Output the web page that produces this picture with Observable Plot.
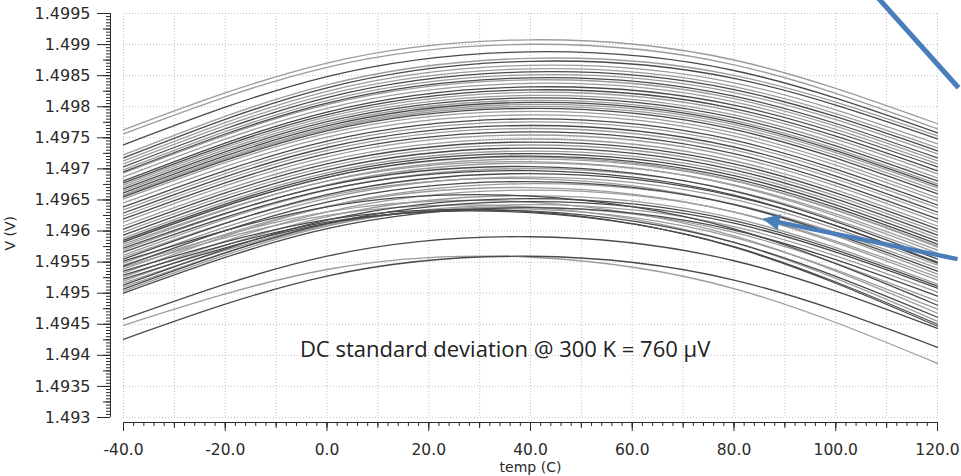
<!DOCTYPE html>
<html><head><meta charset="utf-8">
<script src="https://cdn.jsdelivr.net/npm/d3@7"></script>
<script src="https://cdn.jsdelivr.net/npm/@observablehq/plot@0.6"></script>
<style>body{margin:0;background:#fff}</style>
</head><body><div id="chart"></div>
<script>
// Monte Carlo runs: output voltage (V) at each temperature (°C)
const temps = [-40, 0, 40, 80, 120];
const vAtM40 = [
1.497629,1.497565,1.497387,1.497226,1.497177,1.497129,1.497081,1.497032,1.496984,1.496952,
1.496935,1.496871,1.496806,1.496774,1.496742,1.496710,1.496677,1.496645,1.496613,1.496581,
1.496565,1.496548,1.496516,1.496452,1.496387,1.496339,1.496290,1.496242,1.496194,1.496145,
1.496081,1.496032,1.495984,1.495935,1.495887,1.495855,1.495839,1.495823,1.495790,1.495758,
1.495726,1.495694,1.495661,1.495613,1.495581,1.495548,1.495516,1.495484,1.495452,1.495435,
1.495419,1.495387,1.495355,1.495323,1.495290,1.495258,1.495226,1.495194,1.495161,1.495129,
1.495097,1.495065,1.495032,1.495000,1.494581,1.494484,1.494258];
const vAt0 = [
1.498703,1.498635,1.498486,1.498353,1.498304,1.498248,1.498196,1.498147,1.498099,1.498058,
1.498034,1.497974,1.497913,1.497873,1.497836,1.497796,1.497759,1.497723,1.497691,1.497659,
1.497635,1.497610,1.497570,1.497510,1.497445,1.497397,1.497344,1.497296,1.497244,1.497195,
1.497131,1.497082,1.497034,1.496985,1.496937,1.496901,1.496865,1.496865,1.496804,1.496808,
1.496731,1.496744,1.496667,1.496659,1.496562,1.496586,1.496388,1.496526,1.496308,1.496465,
1.496251,1.496393,1.496183,1.496393,1.496143,1.496308,1.496123,1.496232,1.496106,1.496175,
1.496091,1.496119,1.496078,1.496038,1.495595,1.495381,1.495276];
const vAt40 = [
1.499077,1.499005,1.498884,1.498779,1.498731,1.498666,1.498610,1.498561,1.498513,1.498465,
1.498432,1.498376,1.498319,1.498271,1.498231,1.498183,1.498142,1.498102,1.498070,1.498038,
1.498005,1.497973,1.497924,1.497868,1.497803,1.497755,1.497698,1.497650,1.497594,1.497545,
1.497481,1.497432,1.497384,1.497335,1.497287,1.497247,1.497190,1.497206,1.497117,1.497158,
1.497037,1.497094,1.496972,1.497005,1.496843,1.496924,1.496561,1.496868,1.496465,1.496795,
1.496384,1.496699,1.496312,1.496763,1.496295,1.496658,1.496320,1.496570,1.496352,1.496521,
1.496384,1.496473,1.496424,1.496376,1.495908,1.495578,1.495594];
const vAt80 = [
1.498752,1.498675,1.498583,1.498506,1.498457,1.498385,1.498325,1.498276,1.498228,1.498171,
1.498131,1.498079,1.498026,1.497970,1.497925,1.497869,1.497824,1.497780,1.497748,1.497716,
1.497675,1.497635,1.497578,1.497526,1.497461,1.497413,1.497352,1.497304,1.497244,1.497195,
1.497131,1.497082,1.497034,1.496985,1.496937,1.496893,1.496816,1.496848,1.496731,1.496808,
1.496642,1.496744,1.496578,1.496651,1.496425,1.496562,1.496033,1.496510,1.495921,1.496425,
1.495816,1.496304,1.495740,1.496433,1.495748,1.496308,1.495816,1.496207,1.495897,1.496167,
1.495978,1.496127,1.496070,1.496014,1.495522,1.495074,1.495211];
const vAt120 = [
1.497726,1.497645,1.497581,1.497532,1.497484,1.497403,1.497339,1.497290,1.497242,1.497177,
1.497129,1.497081,1.497032,1.496968,1.496919,1.496855,1.496806,1.496758,1.496726,1.496694,
1.496645,1.496597,1.496532,1.496484,1.496419,1.496371,1.496306,1.496258,1.496194,1.496145,
1.496081,1.496032,1.495984,1.495935,1.495887,1.495839,1.495742,1.495790,1.495645,1.495758,
1.495548,1.495694,1.495484,1.495597,1.495306,1.495500,1.494806,1.495452,1.494677,1.495355,
1.494548,1.495210,1.494468,1.495403,1.494500,1.495258,1.494613,1.495145,1.494742,1.495113,
1.494871,1.495081,1.495016,1.494952,1.494435,1.493871,1.494129];

const xTicks = [-40, -20, 0, 20, 40, 60, 80, 100, 120];
const yTicks = [1.493, 1.4935, 1.494, 1.4945, 1.495, 1.4955, 1.496, 1.4965, 1.497, 1.4975, 1.498, 1.4985, 1.499, 1.4995];
const xLabel = "temp (C)";
const yLabel = "V (V)";
const note = "DC standard deviation @ 300 K = 760 µV";
// annotation anchors (data units)
const notePos = {temp: 35, v: 1.49408};
const arrowA = {x1: 105.26, y1: 1.50003, x2: 124.13, y2: 1.498306};
const arrowB = {x1: 123.93, y1: 1.495548, x2: 87.33, y2: 1.496168, tipX: 85.8, tipY: 1.496194};

const series = [vAtM40, vAt0, vAt40, vAt80, vAt120];
const rows = [];
vAtM40.forEach((_, run) => temps.forEach((t, j) => rows.push({run, temp: t, v: series[j][run]})));

const darkRuns = new Set([2,4,7,9,12,13,16,18,21,24,26,28,31,33,35,37,40,42,45,46,49,52,54,56,59,61,63,64,66]);
const dark = "#4a4a4a", light = "#9c9c9c", blue = "#4a7ebb", axisColor = "#2a2a2a";
const fmtY = d3.format(".5~f");
const yMinor = d3.range(0, 131).map(i => 1.493 + i * 0.00005);
const yMid = d3.range(0, 27).map(i => 1.493 + i * 0.00025);
const xMinor = d3.range(-40, 121, 2);
const xMid = d3.range(-40, 121, 10);
const gridStyle = {stroke: "#c2c2c2", strokeOpacity: 1, strokeDasharray: "1,2"};

const chart = Plot.plot({
  width: 961, height: 476,
  marginLeft: 123, marginRight: 24, marginTop: 13, marginBottom: 59,
  x: {domain: [-40, 120]},
  y: {domain: [1.493, 1.4995]},
  style: {fontFamily: "DejaVu Sans", color: axisColor, background: "#fff"},
  marks: [
    Plot.gridX(xMid, gridStyle),
    Plot.gridY(yTicks, gridStyle),
    Plot.line(rows.filter(d => !darkRuns.has(d.run)), {x: "temp", y: "v", z: "run", stroke: light, strokeWidth: 1.3, curve: "natural"}),
    Plot.line(rows.filter(d => darkRuns.has(d.run)), {x: "temp", y: "v", z: "run", stroke: dark, strokeWidth: 1.3, curve: "natural"}),
    Plot.ruleY([1.493], {dy: 5, stroke: axisColor}),
    Plot.ruleX([-40], {dx: -13, stroke: axisColor}),
    Plot.axisX({ticks: xTicks, tickSize: 9, dy: 5, tickPadding: 12, tickFormat: d => d.toFixed(1), fontSize: 15.5, label: null}),
    Plot.axisX({ticks: xMid, tickSize: 6, dy: 5, fill: "none", label: null}),
    Plot.axisX({ticks: xMinor, tickSize: 4, dy: 5, fill: "none", label: null}),
    Plot.axisY({ticks: yTicks, tickSize: 13, dx: -13, tickPadding: 7, tickFormat: fmtY, fontSize: 16, label: null}),
    Plot.axisY({ticks: yMid, tickSize: 7, dx: -13, fill: "none", label: null}),
    Plot.axisY({ticks: yMinor, tickSize: 4, dx: -13, fill: "none", label: null}),
    Plot.text([yLabel], {frameAnchor: "left", dx: -113, dy: 35, rotate: -90, fontSize: 14, fill: axisColor}),
    Plot.text([xLabel], {frameAnchor: "bottom", dy: 54, fontSize: 14, fill: axisColor}),
    Plot.text([note], {x: notePos.temp, y: notePos.v, fontSize: 22, fontFamily: "Open Sans", fill: "#222"}),
    Plot.link([arrowA], {x1: "x1", y1: "y1", x2: "x2", y2: "y2", stroke: blue, strokeWidth: 5}),
    Plot.link([arrowB], {x1: "x1", y1: "y1", x2: "x2", y2: "y2", stroke: blue, strokeWidth: 4.5}),
    Plot.vector([arrowB], {x: "tipX", y: "tipY", anchor: "end", shape: "spike", length: 16, r: 7.5, rotate: -78.3, stroke: blue, fill: blue, fillOpacity: 1, strokeWidth: 1})
  ]
});
document.getElementById("chart").append(chart);
</script>
</body></html>
